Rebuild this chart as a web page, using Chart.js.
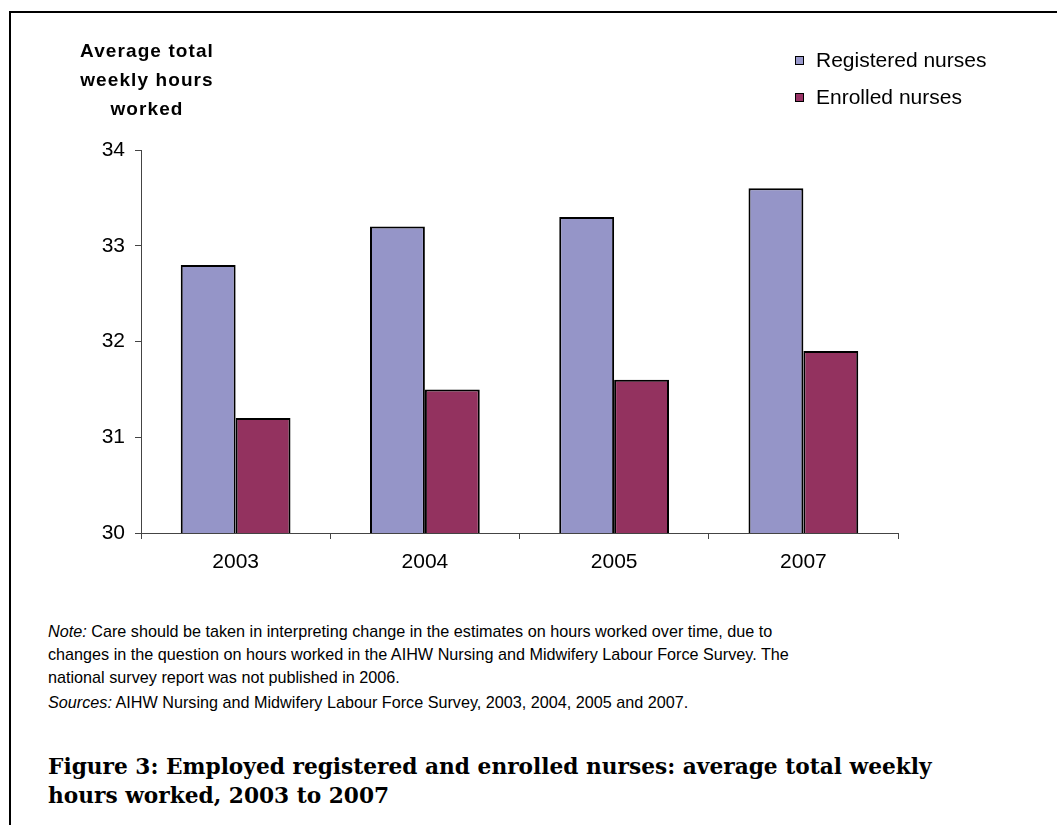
<!DOCTYPE html>
<html>
<head>
<meta charset="utf-8">
<script src="https://cdn.jsdelivr.net/npm/chart.js@4/dist/chart.umd.min.js"></script>
<style>
  html, body { margin:0; padding:0; background:#fff; }
  body { width:1057px; height:825px; position:relative; overflow:hidden; font-family:"Liberation Sans", Arial, sans-serif; }
  #frameTop { position:absolute; left:9px; top:11px; width:1048px; height:2px; background:#000; }
  #frameLeft { position:absolute; left:9px; top:11px; width:2px; height:814px; background:#000; }
  #wrap { position:absolute; left:0; top:0; width:1057px; height:600px; }
  #ytitle { position:absolute; left:47px; top:36px; width:200px; text-align:center; font-weight:bold; font-size:19px; letter-spacing:1.1px; line-height:29px; color:#000; }
  .leg { position:absolute; left:795px; font-size:21px; color:#000; }
  .leg span.box { position:absolute; left:0; width:7px; height:7px; border:1.5px solid #000; }
  .leg span.txt { position:absolute; left:21px; top:0; white-space:nowrap; line-height:24px; }
  #notes { position:absolute; left:48px; top:620px; font-size:16.2px; line-height:23px; color:#000; width:1000px; }
  #notes p { margin:0; }
  #caption { position:absolute; left:48px; top:752px; font-family:"DejaVu Serif", serif; font-weight:bold; font-size:21.7px; line-height:29px; color:#000; width:1005px; white-space:nowrap; }
</style>
</head>
<body>
<div id="frameTop"></div>
<div id="frameLeft"></div>
<div id="wrap"><canvas id="c" width="1057" height="600"></canvas></div>
<div id="ytitle">Average total<br>weekly hours<br>worked</div>
<div class="leg" style="top:48px;"><span class="box" style="top:8px;background:#9999CC;"></span><span class="txt">Registered nurses</span></div>
<div class="leg" style="top:85px;"><span class="box" style="top:8px;background:#993366;"></span><span class="txt">Enrolled nurses</span></div>
<div id="notes">
  <p><i>Note:</i> Care should be taken in interpreting change in the estimates on hours worked over time, due to<br>changes in the question on hours worked in the AIHW Nursing and Midwifery Labour Force Survey. The<br>national survey report was not published in 2006.</p>
  <p style="margin-top:2px;"><i>Sources:</i> AIHW Nursing and Midwifery Labour Force Survey, 2003, 2004, 2005 and 2007.</p>
</div>
<div id="caption">Figure 3: Employed registered and enrolled nurses: average total weekly<br>hours worked, 2003 to 2007</div>
<script>
const categories = ["2003", "2004", "2005", "2007"];
const registeredNurses = [32.8, 33.2, 33.3, 33.6];
const enrolledNurses = [31.2, 31.5, 31.6, 31.9];
const seriesNames = ["Registered nurses", "Enrolled nurses"];
const yTicks = [30, 31, 32, 33, 34];

const Y_W = 60, X_H = 44;
new Chart(document.getElementById('c'), {
  type: 'bar',
  data: {
    labels: categories,
    datasets: [
      { label: seriesNames[0], data: registeredNurses, backgroundColor: '#9595C8', borderColor: '#000', borderWidth: 2, borderSkipped: false, categoryPercentage: 0.58, barPercentage: 1.0 },
      { label: seriesNames[1], data: enrolledNurses, backgroundColor: '#93325F', borderColor: '#000', borderWidth: 2, borderSkipped: false, categoryPercentage: 0.58, barPercentage: 1.0 }
    ]
  },
  options: {
    responsive: false,
    animation: false,
    layout: { padding: { left: 141 - Y_W, top: 150, right: 1057 - 898, bottom: 600 - 533 - X_H } },
    plugins: { legend: { display: false }, tooltip: { enabled: false } },
    scales: {
      x: {
        afterFit: s => { s.height = X_H; },
        grid: { drawOnChartArea: false, drawTicks: true, tickLength: 6, color: '#444', offset: true },
        border: { display: true, color: '#444', width: 1 },
        ticks: { color: '#000', font: { family: 'Liberation Sans', size: 21 }, padding: 11 }
      },
      y: {
        min: 30, max: 34,
        afterFit: s => { s.width = Y_W; },
        afterBuildTicks: s => { s.ticks = yTicks.map(v => ({ value: v })); },
        grid: { drawOnChartArea: false, drawTicks: true, tickLength: 6, color: '#444' },
        border: { display: true, color: '#444', width: 1 },
        ticks: { color: '#000', font: { family: 'Liberation Sans', size: 21 }, padding: 10 }
      }
    }
  }
});
</script>
</body>
</html>
